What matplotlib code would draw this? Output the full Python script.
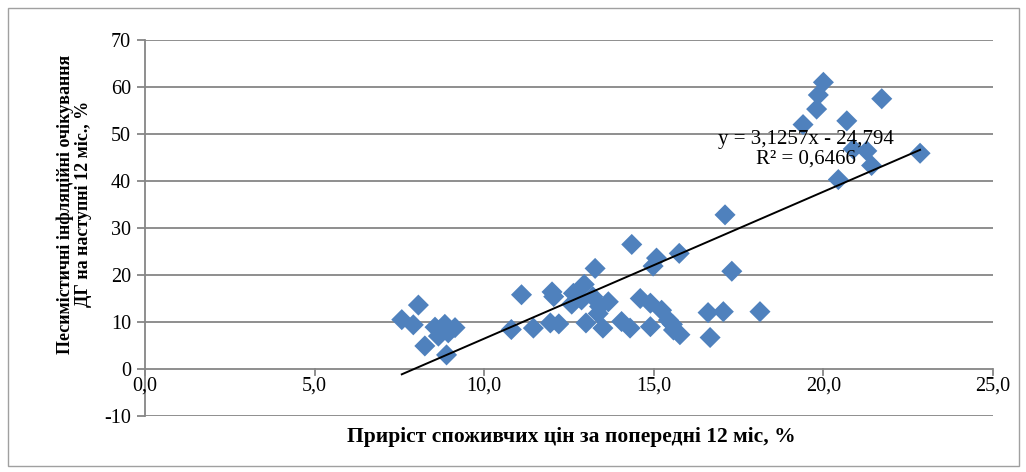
import matplotlib
matplotlib.use("Agg")
import matplotlib.pyplot as plt
from matplotlib.patches import Rectangle
import numpy as np

# Дані: приріст споживчих цін (x) та песимістичні очікування (y)
cpi = [7.57, 7.91, 8.06, 8.25, 8.55, 8.70, 8.84, 8.94, 8.89, 9.14, 8.65,
       10.8, 11.1, 11.45, 11.95, 12.0, 12.05, 12.2, 12.58, 12.63, 12.87, 12.95,
       13.0, 13.2, 13.27, 13.36, 13.4, 13.5, 13.66, 14.05, 14.3, 14.35, 14.6,
       14.9, 14.9, 14.98, 15.08, 15.23, 15.43, 15.55, 15.58, 15.77, 15.75,
       16.6, 16.66, 17.05, 17.1, 17.3, 18.13,
       19.4, 19.8, 19.85, 20.0, 20.44, 20.69, 20.88, 21.28, 21.42, 21.72, 22.85]
expect = [10.5, 9.4, 13.6, 4.9, 8.9, 8.3, 9.5, 7.7, 3.0, 8.8, 7.0,
          8.4, 15.8, 8.7, 9.8, 16.4, 15.4, 9.6, 13.8, 16.1, 14.7, 18.0,
          9.8, 15.4, 21.4, 11.8, 13.3, 8.7, 14.3, 10.1, 8.7, 26.5, 15.0,
          14.0, 9.0, 21.9, 23.6, 12.5, 10.4, 9.5, 8.3, 7.3, 24.6,
          12.0, 6.7, 12.2, 32.8, 20.8, 12.2,
          52.0, 55.3, 58.3, 61.0, 40.3, 52.8, 46.8, 46.4, 43.3, 57.5, 45.9]

# лінія тренду (з рівняння на графіку)
slope = 3.1257
intercept = -24.794
r2 = 0.6466

x_ticks = [0, 5, 10, 15, 20, 25]
y_ticks = [-10, 0, 10, 20, 30, 40, 50, 60, 70]

def fmt(v, n):
    return f'{v:.{n}f}'.replace('.', ',')

plt.rcParams['font.family'] = ['Liberation Serif', 'DejaVu Serif']

fig = plt.figure(figsize=(10.26, 4.72), dpi=100)
ax = fig.add_axes([145 / 1026, 1 - 416 / 472, (993 - 145) / 1026, (416 - 40) / 472])

grid_c = '#868686'
ax.set_xlim(0, 25)
ax.set_ylim(-10, 70)
for v in y_ticks:
    ax.axhline(v, color=grid_c, lw=1.3, zorder=1)

ax.scatter(cpi, expect, marker='D', s=115, color='#4F81BD', edgecolors='none', zorder=3)

xs = np.array([min(cpi), max(cpi)])
ax.plot(xs, slope * xs + intercept, color='black', lw=1.4, zorder=4)

fig.text(806 / 1026, 1 - 149 / 472,
         f'y = {fmt(slope, 4)}x - {fmt(-intercept, 3)}\nR² = {fmt(r2, 4)}',
         ha='center', va='center', fontsize=15, linespacing=1.02, zorder=5)

for s in ['top', 'right', 'bottom']:
    ax.spines[s].set_visible(False)
ax.spines['left'].set_color(grid_c)
ax.spines['left'].set_linewidth(1.3)

ax.set_yticks(y_ticks)
ax.set_yticklabels([str(v) for v in y_ticks])
ax.tick_params(axis='y', length=6, width=1.3, color=grid_c, labelsize=14.5, pad=4)

# підписи осі X висять під лінією y = 0
ax.set_xticks([])
for v in x_ticks:
    ax.plot([v, v], [0, -1.3], color=grid_c, lw=1.3, clip_on=False, zorder=2)
    ax.text(v, -1.5, fmt(v, 1), ha='center', va='top', fontsize=14.5)

fig.text(571 / 1026, 1 - 437 / 472, 'Приріст споживчих цін за попередні 12 міс, %',
         ha='center', va='center', fontsize=15.5, fontweight='bold')
fig.text(74 / 1026, 1 - 204 / 472,
         'Песимістичні інфляційні очікування\nДГ на наступні 12 міс., %',
         ha='center', va='center', rotation=90, fontsize=13, fontweight='bold',
         linespacing=1.1)

fig.patches.append(Rectangle((8 / 1026, 6 / 472), 1011 / 1026, 458 / 472,
                             transform=fig.transFigure, fill=False,
                             edgecolor='#A0A0A0', lw=1.0))

fig.savefig('out.png', dpi=100)
